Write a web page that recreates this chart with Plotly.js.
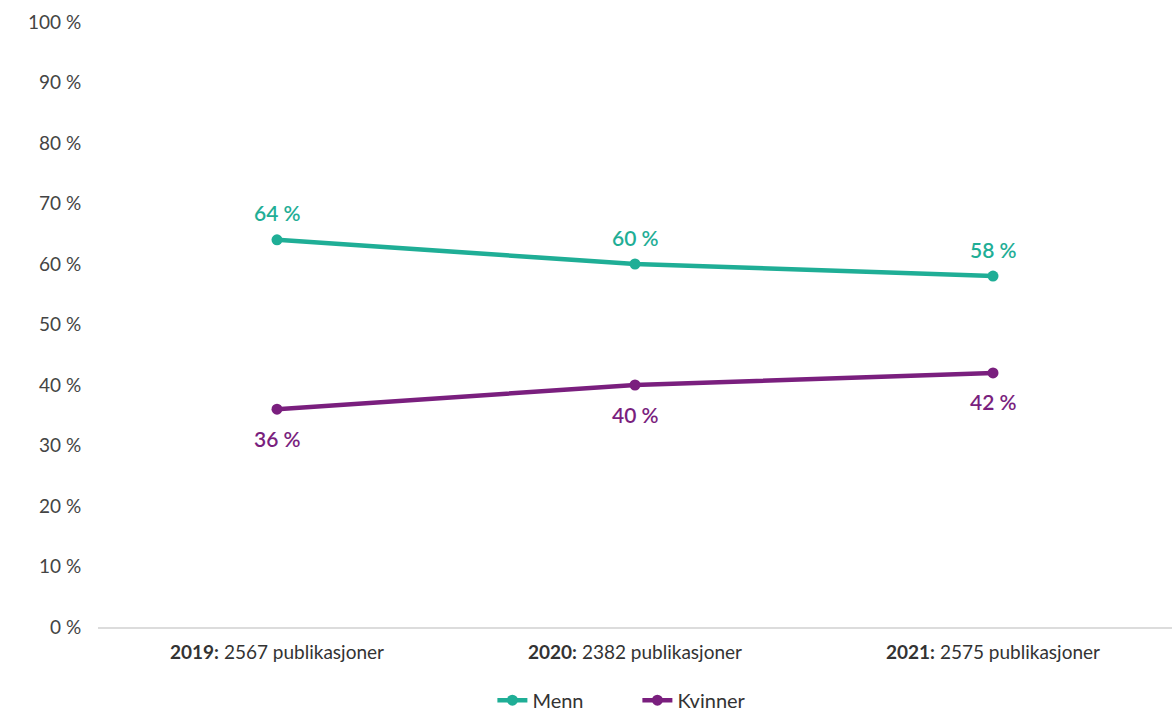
<!DOCTYPE html>
<html>
<head>
<meta charset="utf-8">
<script src="https://cdn.plot.ly/plotly-3.0.1.min.js"></script>
<style>html,body{margin:0;padding:0;background:#fff;}#chart{width:1176px;height:713px;}</style>
</head>
<body>
<div id="chart"></div>
<script>
const years = ["2019", "2020", "2021"];
const publications = [2567, 2382, 2575];
const menn = [64, 60, 58];
const kvinner = [36, 40, 42];
const seriesNames = ["Menn", "Kvinner"];

const categories = years.map((y, i) => "<b>" + y + ":</b> " + publications[i] + " publikasjoner");
const teal = "#1fae96";
const purple = "#7a1f7e";
const fontFam = "Lato, 'Open Sans', sans-serif";

const traces = [
  {
    x: categories, y: menn, name: seriesNames[0], type: "scatter", mode: "lines+markers",
    line: {color: teal, width: 4.5}, marker: {color: teal, size: 11},
    hoverinfo: "skip"
  },
  {
    x: categories, y: kvinner, name: seriesNames[1], type: "scatter", mode: "lines+markers",
    line: {color: purple, width: 4.5}, marker: {color: purple, size: 11},
    hoverinfo: "skip"
  }
];

const annotations = [];
categories.forEach((c, i) => {
  annotations.push({x: c, y: menn[i], text: menn[i] + " %", showarrow: false, yshift: 27,
    font: {color: teal, size: 21, family: fontFam, weight: 600}});
  annotations.push({x: c, y: kvinner[i], text: kvinner[i] + " %", showarrow: false, yshift: -29,
    font: {color: purple, size: 21, family: fontFam, weight: 600}});
});

const layout = {
  width: 1176, height: 713,
  margin: {l: 98, r: 4, t: 22, b: 86},
  paper_bgcolor: "#fff", plot_bgcolor: "#fff",
  font: {family: fontFam, color: "#444", size: 18},
  showlegend: true,
  annotations: annotations,
  legend: {orientation: "h", x: 0.542, xanchor: "center", xref: "container",
           y: 0.018, yanchor: "middle", yref: "container",
           font: {size: 20, color: "#333"}, traceorder: "normal", entrywidth: 100},
  xaxis: {
    type: "category", range: [-0.5, 2.5], showgrid: false, zeroline: false,
    showline: true, linecolor: "#dcdcdc", linewidth: 1.5,
    ticks: "outside", ticklen: 8, tickcolor: "rgba(0,0,0,0)",
    tickfont: {size: 19, color: "#333"}, fixedrange: true
  },
  yaxis: {
    range: [0, 100], dtick: 10, ticksuffix: " %", showgrid: false, zeroline: false,
    showline: false, ticks: "outside", ticklen: 12, tickcolor: "rgba(0,0,0,0)",
    tickfont: {size: 19, color: "#444"}, fixedrange: true
  }
};

Plotly.newPlot("chart", traces, layout, {displayModeBar: false, staticPlot: true});
</script>
</body>
</html>
